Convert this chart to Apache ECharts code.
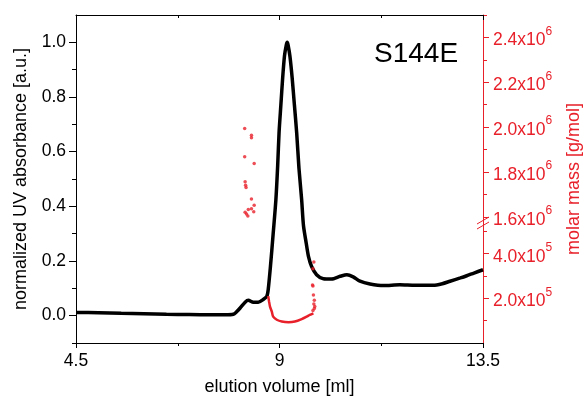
<!DOCTYPE html>
<html>
<head>
<meta charset="utf-8">
<script src="https://cdn.jsdelivr.net/npm/echarts@6/dist/echarts.min.js"></script>
<style>html,body{margin:0;padding:0;background:#fff;}#c{width:586px;height:402px;}</style>
</head>
<body>
<div id="c"></div>
<script>
// ---- data ----
const uvVolume = [4.5, 5.0, 5.5, 6.0, 6.5, 7.0, 7.5, 7.8, 7.98, 8.05, 8.13, 8.24, 8.31, 8.42, 8.53, 8.64, 8.72, 8.75, 8.8, 8.86, 8.92, 8.96, 8.99, 9.03, 9.07, 9.11, 9.15, 9.17, 9.19, 9.23, 9.28, 9.33, 9.38, 9.43, 9.49, 9.53, 9.59, 9.64, 9.71, 9.82, 9.97, 10.15, 10.34, 10.49, 10.63, 10.78, 11.0, 11.3, 11.66, 12.0, 12.4, 12.6, 12.77, 13.0, 13.14, 13.3, 13.5];
const uvAbs    = [0.012, 0.011, 0.009, 0.007, 0.005, 0.004, 0.003, 0.003, 0.005, 0.014, 0.028, 0.049, 0.056, 0.049, 0.049, 0.059, 0.071, 0.095, 0.18, 0.30, 0.424, 0.55, 0.669, 0.77, 0.87, 0.95, 0.99, 1.0, 0.99, 0.95, 0.87, 0.77, 0.669, 0.54, 0.424, 0.33, 0.266, 0.217, 0.18, 0.15, 0.135, 0.134, 0.144, 0.15, 0.142, 0.126, 0.116, 0.11, 0.113, 0.111, 0.111, 0.117, 0.126, 0.138, 0.146, 0.156, 0.168];

const massLowVolume = [8.75, 8.77, 8.79, 8.83, 8.86, 8.94, 9.05, 9.2, 9.34, 9.49, 9.6, 9.67, 9.75];
const massLowValue  = [2.1e5, 1.85e5, 1.63e5, 1.4e5, 1.18e5, 1.04e5, 0.96e5, 0.93e5, 0.96e5, 1.07e5, 1.18e5, 1.26e5, 1.33e5];

const massScatterVolume = [9.78, 9.77, 9.75, 9.76, 9.74, 9.77, 9.73, 9.74, 9.74, 9.76];
const massScatterValue  = [1.63e5, 1.92e5, 2.15e5, 1.75e5, 1.45e5, 1.55e5, 2.6e5, 2.55e5, 3.33e5, 3.63e5];

const massHighVolume = [8.23, 8.38, 8.38, 8.23, 8.44, 8.24, 8.25, 8.26, 8.38, 8.44, 8.38, 8.31, 8.43, 8.24, 8.27, 8.30];
const massHighValue  = [1.994e6, 1.964e6, 1.952e6, 1.868e6, 1.838e6, 1.756e6, 1.741e6, 1.731e6, 1.679e6, 1.652e6, 1.636e6, 1.633e6, 1.622e6, 1.62e6, 1.612e6, 1.604e6];

const xTicks = [4.5, 9, 13.5];
const leftTicks = [0, 0.2, 0.4, 0.6, 0.8, 1.0];
const leftMinorTicks = [-0.1, 0.1, 0.3, 0.5, 0.7, 0.9];
const upperMassTicks = [1.6e6, 1.8e6, 2.0e6, 2.2e6, 2.4e6];
const upperMassMinor = [1.7e6, 1.9e6, 2.1e6, 2.3e6, 2.5e6];
const lowerMassTicks = [2e5, 4e5];
const lowerMassMinor = [1e5, 3e5, 5e5];

const sampleName = 'S144E';
const xName = 'elution volume [ml]';
const leftName = 'normalized UV absorbance [a.u.]';
const rightName = 'molar mass [g/mol]';

// ---- chart ----
const RED = '#e8202a';
const FONT = '"Liberation Sans", Arial, sans-serif';
const zip = (a, b) => a.map((v, i) => [v, b[i]]);
const sci = (v, exp) => '{b|' + (v / Math.pow(10, exp)).toFixed(1) + 'x10}{s|' + exp + '}';
const richR = {
  b: { fontSize: 17.5, color: RED, fontFamily: FONT, padding: [6, 0, 0, 0], verticalAlign: 'bottom' },
  s: { fontSize: 12, color: RED, fontFamily: FONT, verticalAlign: 'top' }
};

const chart = echarts.init(document.getElementById('c'), null, { renderer: 'canvas' });
chart.setOption({
  animation: false,
  backgroundColor: '#fff',
  textStyle: { fontFamily: FONT },
  title: { text: sampleName, left: 369, top: 35, textStyle: { fontSize: 28, fontWeight: 'normal', color: '#000', fontFamily: FONT } },
  grid: [
    { left: 76, right: 103, top: 15, bottom: 59, containLabel: false, outerBoundsMode: 'none' },
    { left: 76, right: 103, top: 15, height: 213, containLabel: false, outerBoundsMode: 'none' },
    { left: 76, right: 103, top: 228, bottom: 59, containLabel: false, outerBoundsMode: 'none' }
  ],
  xAxis: [
    { gridIndex: 0, type: 'value', position: 'bottom', min: 4.5, max: 13.5, interval: 4.5,
      axisLine: { show: true, onZero: false, lineStyle: { color: '#000', width: 1 } },
      axisTick: { show: true, length: 5, lineStyle: { color: '#000' } },
      minorTick: { show: true, splitNumber: 2, length: 3, lineStyle: { color: '#000' } },
      axisLabel: { show: true, margin: 9, fontSize: 17.5, color: '#000', fontFamily: FONT,
        customValues: xTicks, formatter: v => String(v) },
      splitLine: { show: false },
      name: xName, nameLocation: 'middle', nameGap: 35,
      nameTextStyle: { fontSize: 18, color: '#000', fontFamily: FONT } },
    { gridIndex: 0, type: 'value', position: 'top', min: 4.5, max: 13.5, interval: 4.5,
      axisLine: { show: true, onZero: false, lineStyle: { color: '#000', width: 1 } },
      axisTick: { show: true, inside: true, length: 5, lineStyle: { color: '#000' } },
      minorTick: { show: true, splitNumber: 2, length: 3, lineStyle: { color: '#000' } },
      axisLabel: { show: false }, splitLine: { show: false } },
    { gridIndex: 1, type: 'value', min: 4.5, max: 13.5, show: false },
    { gridIndex: 2, type: 'value', min: 4.5, max: 13.5, show: false }
  ],
  yAxis: [
    { gridIndex: 0, type: 'value', position: 'left', min: -0.1, max: 1.1,
      axisLine: { show: true, onZero: false, lineStyle: { color: '#000', width: 1 } },
      axisTick: { show: true, length: 7, customValues: leftTicks, lineStyle: { color: '#000' } },
      axisLabel: { show: true, margin: 10, fontSize: 17.5, color: '#000', fontFamily: FONT,
        customValues: leftTicks, formatter: v => v.toFixed(1) },
      splitLine: { show: false },
      name: leftName, nameLocation: 'middle', nameGap: 46, nameRotate: 90,
      nameTextStyle: { fontSize: 18, color: '#000', fontFamily: FONT } },
    { gridIndex: 0, type: 'value', position: 'left', min: -0.1, max: 1.1,
      axisLine: { show: false, onZero: false },
      axisTick: { show: true, length: 4, customValues: leftMinorTicks, lineStyle: { color: '#000' } },
      axisLabel: { show: false }, splitLine: { show: false } },
    { gridIndex: 1, type: 'value', position: 'right', min: 1.55e6, max: 2.5e6,
      axisLine: { show: true, onZero: false, lineStyle: { color: RED, width: 1 } },
      axisTick: { show: true, length: 6, customValues: upperMassTicks, lineStyle: { color: RED } },
      axisLabel: { show: true, margin: 10, customValues: upperMassTicks, formatter: v => sci(v, 6), rich: richR },
      splitLine: { show: false } },
    { gridIndex: 1, type: 'value', position: 'right', min: 1.55e6, max: 2.5e6,
      axisLine: { show: false, onZero: false },
      axisTick: { show: true, length: 4, customValues: upperMassMinor, lineStyle: { color: RED } },
      axisLabel: { show: false }, splitLine: { show: false } },
    { gridIndex: 2, type: 'value', position: 'right', min: 0, max: 5.15e5,
      axisLine: { show: true, onZero: false, lineStyle: { color: RED, width: 1 } },
      axisTick: { show: true, length: 6, customValues: lowerMassTicks, lineStyle: { color: RED } },
      axisLabel: { show: true, margin: 10, customValues: lowerMassTicks, formatter: v => sci(v, 5), rich: richR },
      splitLine: { show: false } },
    { gridIndex: 2, type: 'value', position: 'right', min: 0, max: 5.15e5,
      axisLine: { show: false, onZero: false },
      axisTick: { show: true, length: 4, customValues: lowerMassMinor, lineStyle: { color: RED } },
      axisLabel: { show: false }, splitLine: { show: false } },
    { gridIndex: 0, type: 'value', position: 'right', min: 0, max: 1,
      axisLine: { show: false, onZero: false }, axisTick: { show: false }, axisLabel: { show: false }, splitLine: { show: false },
      name: rightName, nameLocation: 'middle', nameGap: 82, nameRotate: 90,
      nameTextStyle: { fontSize: 18, color: RED, fontFamily: FONT } }
  ],
  series: [
    { type: 'line', xAxisIndex: 0, yAxisIndex: 0, data: zip(uvVolume, uvAbs), smooth: 0.25,
      showSymbol: false, symbol: 'none', lineStyle: { color: '#000', width: 3.5 }, z: 2 },
    { type: 'line', xAxisIndex: 3, yAxisIndex: 4, data: zip(massLowVolume, massLowValue), smooth: 0.3,
      showSymbol: false, symbol: 'none', lineStyle: { color: RED, width: 2.5 }, z: 3 },
    { type: 'scatter', xAxisIndex: 3, yAxisIndex: 4, data: zip(massScatterVolume, massScatterValue),
      symbol: 'circle', symbolSize: 3.5, itemStyle: { color: RED }, z: 4 },
    { type: 'scatter', xAxisIndex: 2, yAxisIndex: 2, data: zip(massHighVolume, massHighValue),
      symbol: 'circle', symbolSize: 3.5, itemStyle: { color: RED }, z: 4 }
  ],
  graphic: [
    { type: 'line', shape: { x1: 477, y1: 224, x2: 489, y2: 217 }, style: { stroke: RED, lineWidth: 1 } },
    { type: 'line', shape: { x1: 477, y1: 229, x2: 489, y2: 222 }, style: { stroke: RED, lineWidth: 1 } }
  ]
});
</script>
</body>
</html>
